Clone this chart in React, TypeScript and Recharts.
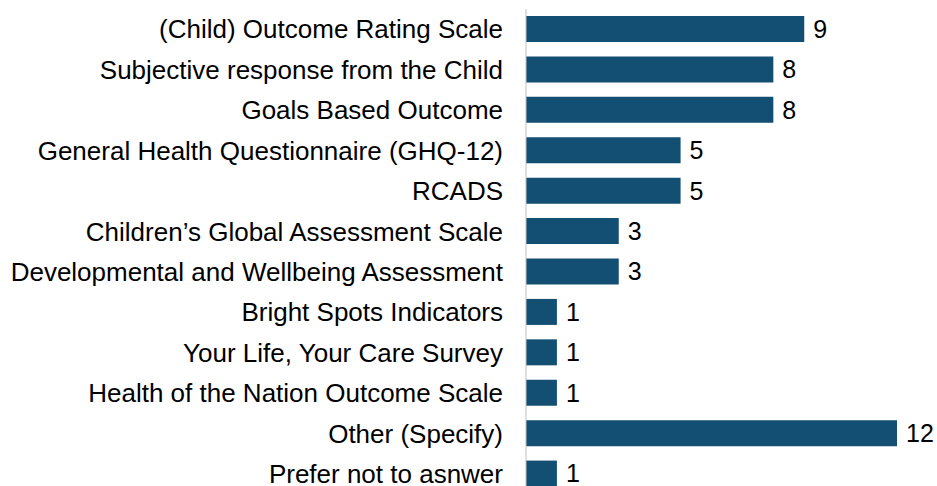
import React from 'react';
import { BarChart, Bar, XAxis, YAxis, LabelList } from 'recharts';

// categories, top to bottom
const CATEGORIES = [
    '(Child) Outcome Rating Scale',
    'Subjective response from the Child',
    'Goals Based Outcome',
    'General Health Questionnaire (GHQ-12)',
    'RCADS',
    'Children\u2019s Global Assessment Scale',
    'Developmental and Wellbeing Assessment',
    'Bright Spots Indicators',
    'Your Life, Your Care Survey',
    'Health of the Nation Outcome Scale',
    'Other (Specify)',
    'Prefer not to asnwer',
];

const COUNTS = [9, 8, 8, 5, 5, 3, 3, 1, 1, 1, 12, 1];

const BAR_COLOR = '#124F73';
const FONT = 'Arial, "Liberation Sans", sans-serif';

export default function App() {
    const data = CATEGORIES.map((name, i) => ({ name, value: COUNTS[i] }));

    return (
        <div style={{ position: 'absolute', left: 0, top: 0, width: 937, height: 486, overflow: 'hidden', background: '#fff' }}>
            <BarChart
                width={937}
                height={494}
                data={data}
                layout="vertical"
                margin={{ top: 9, right: 40, bottom: 0, left: 0 }}
                barSize={26}
            >
                <XAxis type="number" domain={[0, 12]} hide />
                <YAxis
                    type="category"
                    dataKey="name"
                    width={526}
                    interval={0}
                    tickLine={false}
                    tickSize={0}
                    tickMargin={23}
                    axisLine={{ stroke: '#BFBFBF', strokeWidth: 1 }}
                    tick={{ fill: '#000', fontSize: 26, fontFamily: FONT }}
                />
                <Bar dataKey="value" fill={BAR_COLOR} isAnimationActive={false}>
                    <LabelList
                        dataKey="value"
                        position="right"
                        offset={9}
                        style={{ fill: '#000', fontSize: 25, fontFamily: FONT }}
                    />
                </Bar>
            </BarChart>
        </div>
    );
}
